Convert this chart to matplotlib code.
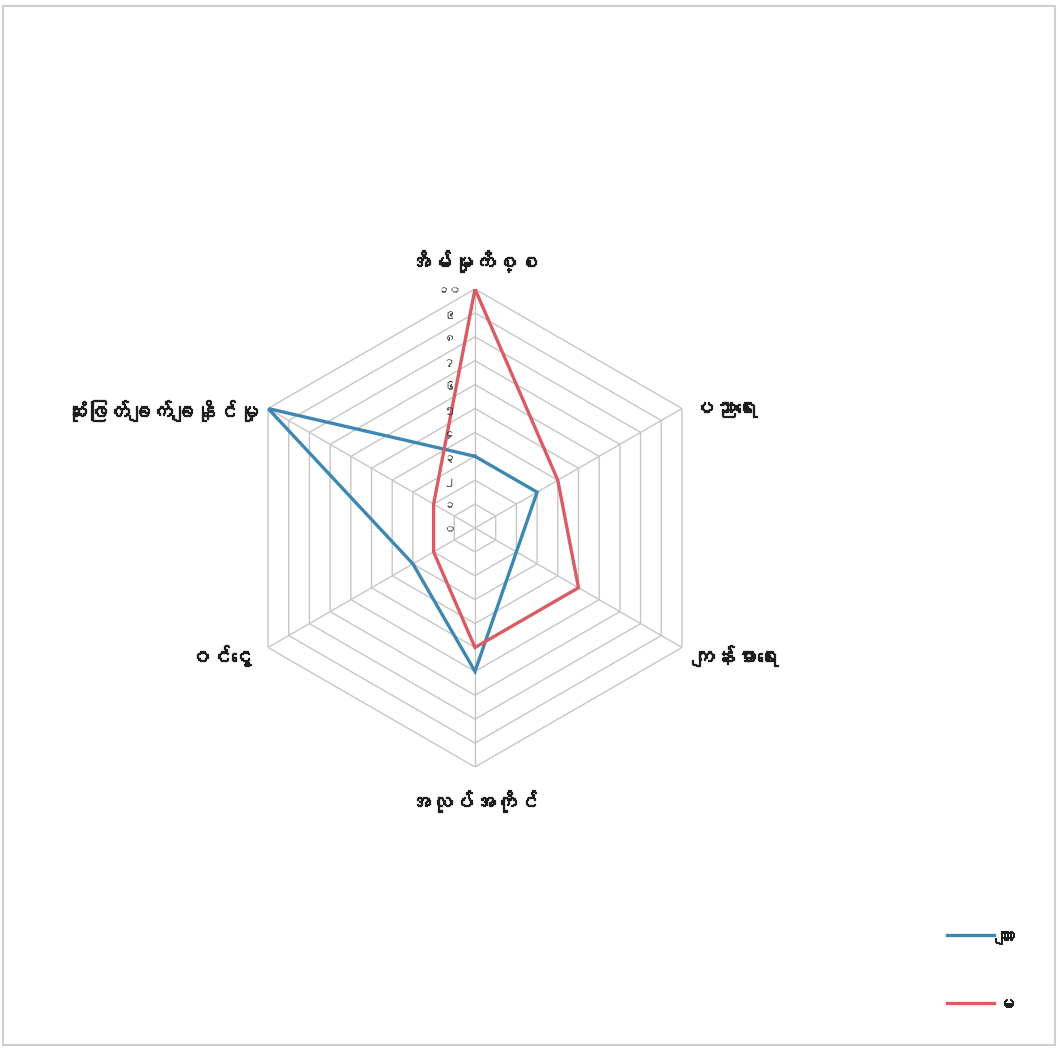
import numpy as np
import matplotlib
matplotlib.use("Agg")
import matplotlib.pyplot as plt
from matplotlib import font_manager
from matplotlib.ft2font import FT2Font
from matplotlib.lines import Line2D
from matplotlib.patches import Rectangle
import matplotlib.transforms as mtransforms
import matplotlib.patheffects as pe

# ---------------- data ----------------
categories = ["အိမ်မှုကိစ္စ", "ပညာရေး", "ကျန်းမာရေး", "အလုပ်အကိုင်", "ဝင်ငွေ", "ဆုံးဖြတ်ချက်ချနိုင်မှု"]
male_values = [3, 3, 2, 6, 3, 10]      # ကျား
female_values = [10, 4, 5, 5, 2, 2]    # မ
series_names = ["ကျား", "မ"]
tick_values = list(range(0, 11))
tick_labels = ["၀", "၁", "၂", "၃", "၄", "၅", "၆", "၇", "၈", "၉", "၁၀"]

# ---------------- font with Myanmar glyphs ----------------
my_font = None
for f in font_manager.fontManager.ttflist:
    try:
        cm = FT2Font(f.fname).get_charmap()
        if 0x1000 in cm and 0x1039 in cm and 0x1004 in cm:
            my_font = f.name
            break
    except Exception:
        pass
families = ([my_font] if my_font else []) + ["Noto Sans", "DejaVu Sans"]
plt.rcParams["font.family"] = families

blue = "#3f87b3"
red = "#d95b63"
grid_c = "#c6c6c6"
text_c = "#1e1e1e"

W, H = 1058, 1048
fig = plt.figure(figsize=(W / 100, H / 100), dpi=100)
fig.patch.set_facecolor("white")

cx, cy, R = 475, 528, 239
ax = fig.add_axes([(cx - R) / W, (H - cy - R) / H, 2 * R / W, 2 * R / H], projection="polar")
ax.set_theta_zero_location("N")
ax.set_theta_direction(-1)
ax.set_ylim(0, 10)
ax.grid(False)
ax.spines["polar"].set_visible(False)
ax.set_xticks([])
ax.set_yticks([])
ax.patch.set_alpha(0)

n = len(categories)
angles = np.arange(n) * 2 * np.pi / n
ang_c = np.concatenate([angles, angles[:1]])

# hexagonal grid rings
for k in tick_values[1:]:
    ax.plot(ang_c, [k] * (n + 1), color=grid_c, lw=1.0, zorder=1)
# spokes
for a in angles:
    ax.plot([a, a], [0, 10], color=grid_c, lw=1.0, zorder=1)

# series
for vals, col, name in [(male_values, blue, series_names[0]), (female_values, red, series_names[1])]:
    v = list(vals) + [vals[0]]
    ax.plot(ang_c, v, color=col, lw=2.4, zorder=3, solid_joinstyle="miter", label=name)

bold = [pe.withStroke(linewidth=0.9, foreground=text_c)]

# radial tick labels
off = mtransforms.offset_copy(ax.transData, fig=fig, x=-26, y=-2, units="dots")
for val, lab in zip(tick_values, tick_labels):
    ax.text(0, val, lab, transform=off, ha="center", va="center", fontsize=8.5, color="#333333", zorder=4)

# category labels
label_specs = [
    (dict(ha="center", va="center"), (-2, 28)),
    (dict(ha="left", va="center"), (10, 0)),
    (dict(ha="left", va="center"), (10, -8)),
    (dict(ha="center", va="center"), (-2, -34)),
    (dict(ha="right", va="center"), (-16, -8)),
    (dict(ha="right", va="center"), (-10, -2)),
]
for a, cat, (kw, (dx, dy)) in zip(angles, categories, label_specs):
    t = mtransforms.offset_copy(ax.transData, fig=fig, x=dx, y=dy, units="dots")
    ax.text(a, 10, cat, transform=t, fontsize=15.5, color=text_c, path_effects=bold, **kw)

# legend
handles = [Line2D([0], [0], color=blue, lw=2.4), Line2D([0], [0], color=red, lw=2.4)]
leg = fig.legend(handles, series_names, loc="lower right", bbox_to_anchor=(1032 / W, 19 / H),
                 frameon=False, fontsize=14, handlelength=2.4, handletextpad=0.05, labelspacing=2.6)
for txt in leg.get_texts():
    txt.set_color(text_c)
    txt.set_path_effects([pe.withStroke(linewidth=0.7, foreground=text_c)])

# outer frame
fig.add_artist(Rectangle((3 / W, 3 / H), (W - 6) / W, (H - 9) / H, transform=fig.transFigure,
                         fill=False, edgecolor="#cfcfcf", lw=1.5))

fig.savefig("out.png", dpi=100, facecolor="white")
